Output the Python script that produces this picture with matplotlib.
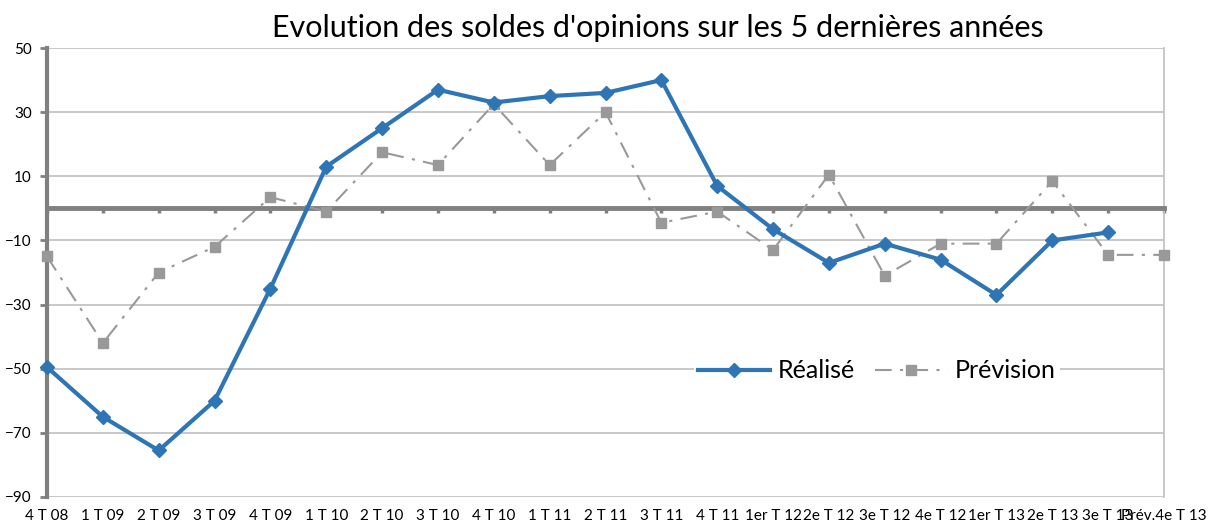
import matplotlib
matplotlib.use("Agg")
import matplotlib.pyplot as plt
import numpy as np

plt.rcParams['font.family'] = ['Lato', 'DejaVu Sans']

trimestres = ["4 T 08", "1 T 09", "2 T 09", "3 T 09", "4 T 09", "1 T 10", "2 T 10",
              "3 T 10", "4 T 10", "1 T 11", "2 T 11", "3 T 11", "4 T 11", "1er T 12",
              "2e T 12", "3e T 12", "4e T 12", "1er T 13", "2e T 13", "3e T 13",
              "Prév.4e T 13"]
realise = [-49.5, -65, -75.5, -60, -25, 13, 25, 37, 33, 35, 36, 40, 7, -6.5,
           -17, -11, -16, -27, -10, -7.5, np.nan]
prevision = [-15, -42, -20, -12, 3.5, -1, 17.5, 13.5, 32.5, 13.5, 30, -4.5, -1, -13,
             10.5, -21, -11, -11, 8.5, -14.5, -14.5]
yticks = [-90, -70, -50, -30, -10, 10, 30, 50]

BLUE = "#2E75B6"
GREY = "#999999"
AXIS = "#808080"
GRID = "#c4c4c4"


def plot_soldes():
    fig = plt.figure(figsize=(12.13, 5.28), dpi=100)
    ax = fig.add_axes([47 / 1213, 1 - 497 / 528, 1117 / 1213, 449 / 528])
    x = np.arange(len(trimestres))

    ax.plot(x, realise, color=BLUE, lw=3, marker="D", markersize=7,
            label="Réalisé", zorder=4, clip_on=False)
    ax.plot(x, prevision, color=GREY, lw=1.5, linestyle=(0, (8, 4, 1.5, 4)),
            marker="s", markersize=7, label="Prévision", zorder=3, clip_on=False)

    ax.set_xlim(0, len(trimestres) - 1)
    ax.set_ylim(-90, 50)
    ax.set_yticks(yticks)
    ax.grid(axis="y", color=GRID, lw=1.3)
    ax.set_axisbelow(True)

    # category axis crosses at 0, labels stay at the bottom
    ax.spines["bottom"].set_position(("data", 0))
    ax.spines["bottom"].set_color(AXIS)
    ax.spines["bottom"].set_linewidth(3.5)
    ax.spines["bottom"].set_zorder(2.6)
    ax.set_xticks(x)
    ax.tick_params(axis="x", direction="out", length=3.5, width=2.5, color=AXIS,
                   labelbottom=False)
    ax.spines["left"].set_color(AXIS)
    ax.spines["left"].set_linewidth(3)
    ax.spines["right"].set_color(GRID)
    ax.spines["right"].set_linewidth(1.3)
    ax.spines["top"].set_visible(False)
    ax.tick_params(axis="y", direction="out", length=5, width=2, color=AXIS,
                   labelsize=11, pad=6)

    sec = ax.secondary_xaxis("bottom")
    sec.set_xticks(x, trimestres)
    sec.tick_params(length=0, labelsize=11, pad=9)
    sec.spines["bottom"].set_visible(False)

    leg = ax.legend(loc="center", bbox_to_anchor=(0.743, 0.281), ncol=2,
                    fontsize=18, frameon=True, fancybox=False, handlelength=2.9,
                    columnspacing=0.8, handletextpad=0.3, borderpad=0.15)
    leg.get_frame().set_facecolor("white")
    leg.get_frame().set_edgecolor("none")
    leg.get_frame().set_alpha(1)

    fig.text(658 / 1213, 1 - 28 / 528, "Evolution des soldes d'opinions sur les 5 dernières années",
             ha="center", va="center", fontsize=22)

    fig.savefig("out.png", dpi=100)


if __name__ == "__main__":
    plot_soldes()
